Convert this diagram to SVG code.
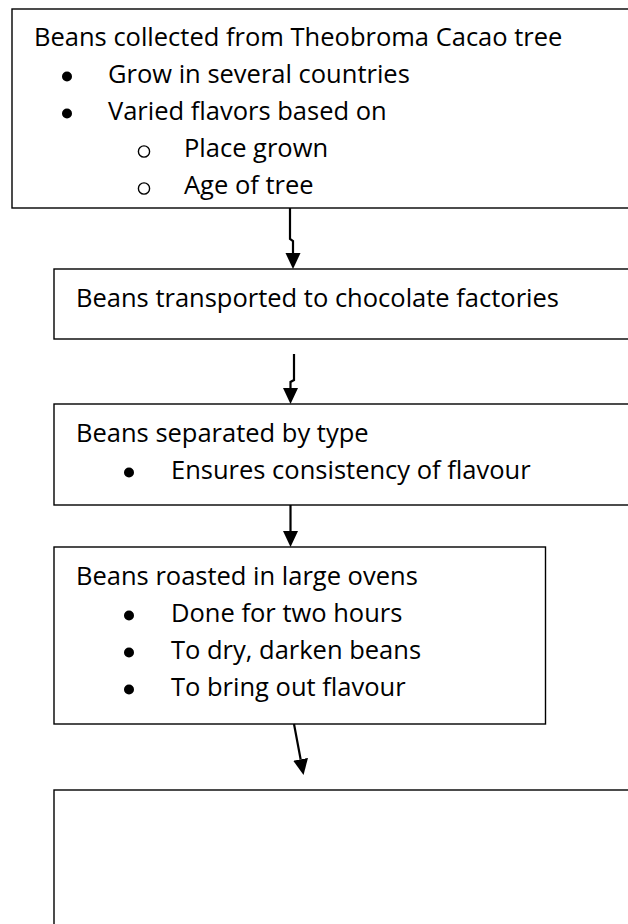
<svg xmlns="http://www.w3.org/2000/svg" width="628" height="924" viewBox="0 0 628 924">
<defs>
<style>
.box{fill:#fff;stroke:#000;stroke-width:1.4}
.t{font-family:"Open Sans","Liberation Sans",sans-serif;font-size:25.5px;fill:#000}
.b{fill:#000}
.o{fill:none;stroke:#000;stroke-width:1.4}
.c{fill:none;stroke:#000;stroke-width:2.2}
</style>
<marker id="ah" markerUnits="userSpaceOnUse" markerWidth="17" markerHeight="16" refX="0" refY="7.5" orient="auto" viewBox="0 0 17 16">
<path d="M0,0 L16,7.5 L0,15 z" fill="#000"/>
</marker>
</defs>
<rect width="628" height="924" fill="#fff"/>
<g id="node1">
<rect class="box" x="12" y="9" width="640" height="199"/>
<text class="t" x="34" y="46">Beans collected from Theobroma Cacao tree</text>
<circle class="b" cx="67" cy="76.5" r="5"/>
<text class="t" x="108" y="83">Grow in several countries</text>
<circle class="b" cx="67" cy="113.5" r="5"/>
<text class="t" x="108" y="120">Varied flavors based on</text>
<circle class="o" cx="144" cy="151.5" r="5.6"/>
<text class="t" x="184" y="157">Place grown</text>
<circle class="o" cx="144" cy="188.5" r="5.6"/>
<text class="t" x="184" y="194">Age of tree</text>
</g>
<g id="node2">
<rect class="box" x="54" y="269" width="600" height="70"/>
<text class="t" x="76" y="307">Beans transported to chocolate factories</text>
</g>
<g id="node3">
<rect class="box" x="54" y="404" width="600" height="101"/>
<text class="t" x="76" y="442">Beans separated by type</text>
<circle class="b" cx="129" cy="472.5" r="5"/>
<text class="t" x="171" y="479">Ensures consistency of flavour</text>
</g>
<g id="node4">
<rect class="box" x="54" y="547" width="491.5" height="177"/>
<text class="t" x="76" y="585">Beans roasted in large ovens</text>
<circle class="b" cx="129" cy="615.5" r="5"/>
<text class="t" x="171" y="622">Done for two hours</text>
<circle class="b" cx="129" cy="652.5" r="5"/>
<text class="t" x="171" y="659">To dry, darken beans</text>
<circle class="b" cx="129" cy="689.5" r="5"/>
<text class="t" x="171" y="696">To bring out flavour</text>
</g>
<g id="node5">
<rect class="box" x="54" y="790" width="600" height="160"/>
</g>
<g id="connectors">
<path class="c" d="M290,208 V239 L293,241 V253" marker-end="url(#ah)"/>
<path class="c" d="M294,354 V380 L290.5,382 V388" marker-end="url(#ah)"/>
<path class="c" d="M290.5,505 V531" marker-end="url(#ah)"/>
<path class="c" d="M294,724 L300.6,759.3" marker-end="url(#ah)"/>
</g>
</svg>
